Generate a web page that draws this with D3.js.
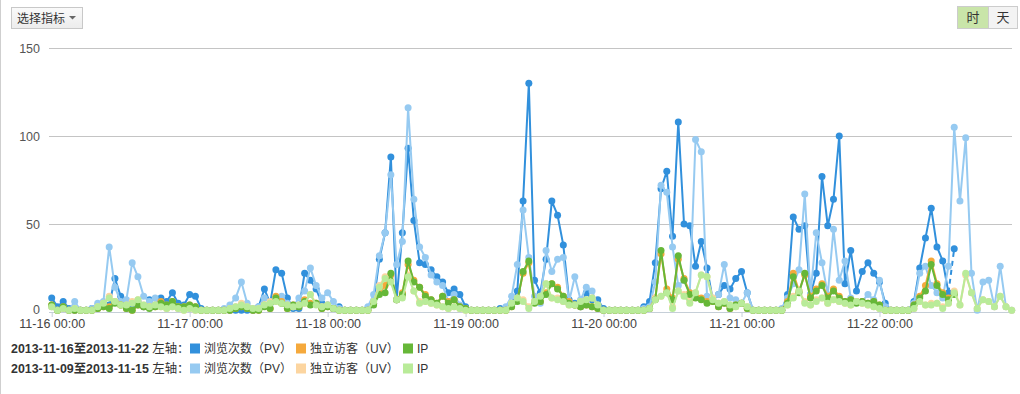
<!DOCTYPE html>
<html>
<head>
<meta charset="utf-8">
<script src="https://cdn.jsdelivr.net/npm/d3@7/dist/d3.min.js"></script>
<style>
    body { margin: 0; background: #fff; }
    svg { display: block; font-family: "Liberation Sans", Arial, "Noto Sans CJK SC", sans-serif; }
</style>
</head>
<body>
<div id="chart"></div>
<script>
// tick labels on the x axis (one per day) and the y axis
const dayLabels = ["11-16 00:00", "11-17 00:00", "11-18 00:00", "11-19 00:00", "11-20 00:00", "11-21 00:00", "11-22 00:00"];
const yTicks = [0, 50, 100, 150];

// 2013-11-16 .. 2013-11-22, hourly (last hour is still running)
const curPV = [
    8,3,6,2,1,1,1,2, 3,4,4,19,9,4,3,6, 3,7,4,8,6,11,5,4,
    10,9,2,1,1,1,1,1, 1,1,1,1,3,13,5,24, 22,8,2,2,22,18,13,5,
    4,2,3,1,1,1,1,2, 5,30,45,88,7,45,93,52, 28,27,24,20,17,11,13,10,
    3,1,1,1,1,1,2,2, 5,12,63,130,18,11,30,63, 55,38,7,5,3,11,7,7,
    2,1,1,1,1,1,1,3, 6,28,70,80,43,108,50,49, 26,40,25,7,10,15,13,19,
    23,11,1,1,1,1,1,1, 10,54,47,49,10,22,77,49, 64,100,16,35,12,23,28,22,
    17,5,1,1,1,1,6,25, 42,59,37,29,11,36
];
const curUV = [
    4,1,3,1,1,1,1,1, 2,3,3,6,4,2,1,4, 3,3,3,6,4,6,3,3,
    4,3,1,1,1,1,1,1, 2,3,2,1,1,4,2,9, 6,2,4,3,7,5,5,2,
    3,2,1,1,1,1,1,1, 5,11,15,21,7,11,27,18, 14,10,7,5,9,6,7,3,
    2,1,1,1,1,1,1,1, 3,7,22,28,6,6,11,16, 14,9,6,4,3,4,3,2,
    1,1,1,1,1,1,1,1, 2,8,33,13,8,30,19,11, 9,8,6,6,3,5,2,4,
    5,2,1,1,1,1,1,1, 6,22,12,21,9,13,16,9, 13,9,6,7,6,6,5,6,
    4,1,1,1,1,1,4,9, 15,29,16,11,8,11
];
const curIP = [
    4,1,3,1,1,1,1,1, 2,3,2,5,4,2,1,4, 3,2,3,5,4,6,3,3,
    4,3,1,1,1,1,1,1, 2,3,2,1,1,3,2,8, 5,2,4,3,6,4,5,2,
    3,2,1,1,1,1,1,1, 4,10,11,22,7,10,29,17, 14,9,7,5,9,5,7,3,
    2,1,1,1,1,1,1,1, 3,6,23,29,5,6,10,16, 13,9,5,4,3,4,3,2,
    1,1,1,1,1,1,1,1, 2,7,35,11,7,32,18,10, 8,7,5,6,3,5,2,4,
    5,2,1,1,1,1,1,1, 5,20,11,22,8,12,15,8, 12,8,6,7,5,6,5,6,
    4,1,1,1,1,1,4,8, 12,27,15,10,7,10
];

// 2013-11-09 .. 2013-11-15, hourly
const prevPV = [
    3,1,2,1,6,1,1,2, 5,6,37,14,6,7,28,20, 9,6,8,4,3,6,3,3,
    3,2,1,1,1,1,2,4, 8,17,5,2,3,8,5,7, 9,5,3,8,12,25,15,8,
    11,6,2,1,1,1,1,3, 10,32,45,78,27,40,116,64, 37,31,21,17,15,6,10,4,
    2,1,1,1,1,1,1,3, 9,27,58,31,9,5,35,23, 30,31,6,20,7,14,12,3,
    1,1,1,1,1,1,1,2, 3,17,72,68,37,15,18,11, 98,91,9,8,10,27,8,7,
    5,11,1,1,1,1,1,2, 8,16,24,67,10,45,28,10, 47,18,29,8,6,6,10,7,
    18,3,1,1,1,1,5,22, 26,15,11,8,26,105,63,99, 22,1,17,18,3,26,3,1
];
const prevUV = [
    3,1,2,1,2,1,1,1, 3,5,9,6,4,4,6,7, 4,3,4,3,2,3,2,1,
    2,1,1,1,1,1,1,2, 3,5,3,2,2,4,6,6, 5,4,3,4,5,10,5,3,
    4,2,1,1,1,1,1,1, 6,15,20,18,7,9,21,12, 6,6,5,4,3,2,3,2,
    1,1,1,1,1,1,1,1, 5,8,7,3,6,9,16,8, 8,6,4,4,6,7,8,4,
    1,1,1,1,1,1,1,1, 2,8,9,11,3,12,10,6, 11,21,20,8,5,6,4,3,
    5,3,1,1,1,1,1,1, 4,9,12,6,4,7,8,5, 7,6,5,4,6,5,4,3,
    2,1,1,1,1,1,2,6, 4,5,5,3,5,12,4,21, 11,2,7,6,3,9,3,1
];
const prevIP = [
    3,1,2,1,2,1,1,1, 3,5,8,6,4,4,5,7, 4,3,4,3,2,3,2,1,
    2,1,1,1,1,1,1,2, 3,4,3,2,2,4,5,6, 5,4,3,4,5,10,4,3,
    4,2,1,1,1,1,1,1, 6,14,19,17,7,8,20,12, 5,6,5,4,3,2,3,2,
    1,1,1,1,1,1,1,1, 5,8,6,2,6,9,16,8, 7,6,4,4,6,7,8,4,
    1,1,1,1,1,1,1,1, 2,7,9,11,2,12,9,5, 11,21,20,7,5,6,4,3,
    5,3,1,1,1,1,1,1, 4,8,12,5,4,6,8,5, 7,6,5,4,6,5,4,3,
    2,1,1,1,1,1,2,6, 4,4,5,2,5,11,4,22, 11,2,7,6,3,9,3,1
];

const legendRows = ["2013-11-16至2013-11-22", "2013-11-09至2013-11-15"];
const metricNames = ["浏览次数（PV）", "独立访客（UV）", "IP"];

var w = 1020;
var h = 394;

var svg = d3.select("#chart")
    .append("svg")
    .attr("width", w)
    .attr("height", h);

// left border of the panel
svg.append("line")
    .attr("x1", 0.5).attr("x2", 0.5)
    .attr("y1", 0).attr("y2", h)
    .attr("stroke", "#cfcfcf");

// scales: one point per hour
var xScale = d3.scaleLinear()
    .domain([0, 167])
    .range([51.7, 1011.7]);

var yScale = d3.scaleLinear()
    .domain([0, 150])
    .range([312, 48]);

// horizontal grid + y labels
var yAxis = d3.axisLeft(yScale)
    .tickValues(yTicks)
    .tickSize(-(1012 - 49))
    .tickPadding(9);

var yG = svg.append("g")
    .attr("transform", "translate(49,0)")
    .call(yAxis);
yG.select(".domain").remove();
yG.selectAll(".tick line")
    .attr("stroke", function (d) { return d === 0 ? "#c6cfd8" : "#c4c4c4"; });
yG.selectAll(".tick text")
    .attr("fill", "#555")
    .attr("font-size", "12.5px")
    .attr("y", function (d) { return d === 0 ? -3 : 0; }); // keep "0" clear of the first date

// x axis, one tick per day
var xAxis = d3.axisBottom(xScale)
    .tickValues(d3.range(dayLabels.length).map(function (i) { return i * 24; }))
    .tickFormat(function (d) { return dayLabels[d / 24]; })
    .tickSize(5)
    .tickPadding(2);

var xG = svg.append("g")
    .attr("transform", "translate(0,312)")
    .call(xAxis);
xG.select(".domain").remove();
xG.selectAll(".tick line").attr("stroke", "#c6cfd8");
xG.selectAll(".tick text")
    .attr("fill", "#444")
    .attr("font-size", "12.5px");

// series, drawn current week first, then the week before on top
var series = [
    { data: curPV, color: "#3190dc", current: true },
    { data: prevPV, color: "#96caf1", current: false },
    { data: curUV, color: "#f5a93c", current: true },
    { data: prevUV, color: "#fcd5a0", current: false },
    { data: curIP, color: "#66b738", current: true },
    { data: prevIP, color: "#b9eb99", current: false }
];

var line = d3.line()
    .x(function (d) { return xScale(d.i); })
    .y(function (d) { return yScale(d.v); });

series.forEach(function (s) {
    var pts = s.data.map(function (v, i) { return { i: i, v: v }; });
    var g = svg.append("g");

    if (s.current) {
        // the last (unfinished) hour is dashed
        g.append("path")
            .attr("d", line(pts.slice(0, pts.length - 1)))
            .attr("fill", "none")
            .attr("stroke", s.color)
            .attr("stroke-width", 2)
            .attr("stroke-linejoin", "round");
        g.append("path")
            .attr("d", line(pts.slice(pts.length - 2)))
            .attr("fill", "none")
            .attr("stroke", s.color)
            .attr("stroke-width", 2)
            .attr("stroke-dasharray", "5,4");
    } else {
        g.append("path")
            .attr("d", line(pts))
            .attr("fill", "none")
            .attr("stroke", s.color)
            .attr("stroke-width", 2)
            .attr("stroke-linejoin", "round");
    }

    g.selectAll("circle")
        .data(pts)
        .enter()
        .append("circle")
        .attr("cx", function (d) { return xScale(d.i); })
        .attr("cy", function (d) { return yScale(d.v); })
        .attr("r", 3.5)
        .attr("fill", s.color);
});

// "选择指标" dropdown button
var btn = svg.append("g");
var grad = svg.append("defs").append("linearGradient")
    .attr("id", "btnGrad")
    .attr("x1", 0).attr("x2", 0).attr("y1", 0).attr("y2", 1);
grad.append("stop").attr("offset", "0%").attr("stop-color", "#fafafa");
grad.append("stop").attr("offset", "100%").attr("stop-color", "#ececec");

btn.append("rect")
    .attr("x", 11.5).attr("y", 7.5)
    .attr("width", 71).attr("height", 21)
    .attr("fill", "url(#btnGrad)")
    .attr("stroke", "#c8c8c8");
btn.append("text")
    .attr("x", 17).attr("y", 22.5)
    .attr("font-size", "12px")
    .attr("fill", "#333")
    .text("选择指标");
btn.append("path")
    .attr("d", "M69,16 L76,16 L72.5,19.5 Z")
    .attr("fill", "#666");

// hour / day toggle
svg.append("rect")
    .attr("x", 957.5).attr("y", 6.5)
    .attr("width", 31).attr("height", 22)
    .attr("fill", "#c9e5a9")
    .attr("stroke", "#cccccc");
svg.append("rect")
    .attr("x", 988.5).attr("y", 6.5)
    .attr("width", 29).attr("height", 22)
    .attr("fill", "#f3f3f3")
    .attr("stroke", "#cccccc");
svg.append("text")
    .attr("x", 973).attr("y", 22)
    .attr("text-anchor", "middle")
    .attr("font-size", "13px")
    .attr("fill", "#333")
    .text("时");
svg.append("text")
    .attr("x", 1003).attr("y", 22)
    .attr("text-anchor", "middle")
    .attr("font-size", "13px")
    .attr("fill", "#333")
    .text("天");

// legend, one row per week
var legendColors = [["#3190dc", "#f5a93c", "#66b738"], ["#96caf1", "#fcd5a0", "#b9eb99"]];
var itemX = [190, 296, 403];

legendRows.forEach(function (label, r) {
    var y = 353 + r * 20;
    var t = svg.append("text")
        .attr("x", 11).attr("y", y)
        .attr("font-size", "12.4px")
        .attr("fill", "#333");
    t.append("tspan").attr("font-weight", "bold").text(label);
    t.append("tspan").text(" 左轴：");

    metricNames.forEach(function (name, k) {
        svg.append("rect")
            .attr("x", itemX[k]).attr("y", y - 9.5)
            .attr("width", 10).attr("height", 10)
            .attr("fill", legendColors[r][k]);
        svg.append("text")
            .attr("x", itemX[k] + 14).attr("y", y)
            .attr("font-size", "12px")
            .attr("fill", "#333")
            .text(name);
    });
});
</script>
</body>
</html>
